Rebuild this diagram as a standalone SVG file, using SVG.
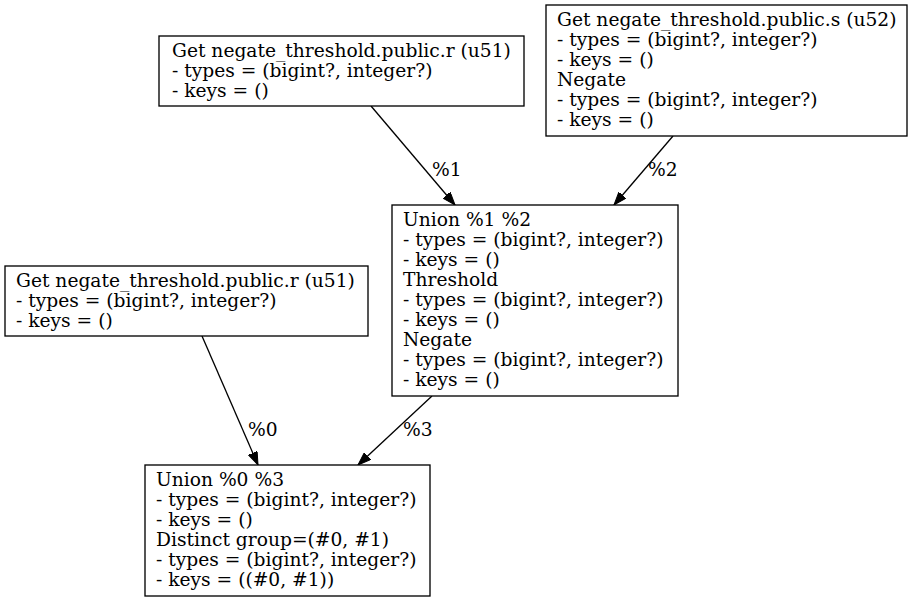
<svg xmlns="http://www.w3.org/2000/svg" width="915" height="603" viewBox="0 0 915 603">
<defs>
<marker id="arr" markerWidth="14" markerHeight="10" refX="13" refY="4.7" orient="auto" markerUnits="userSpaceOnUse">
<polygon points="0,0 13,4.7 0,9.4" fill="#000" stroke="#000" stroke-width="1"/>
</marker>
<style>
rect{fill:#fff;stroke:#000;stroke-width:1.33}
text{font-family:"DejaVu Serif",serif;font-size:18.67px;fill:#000}
.e{stroke:#000;stroke-width:1.33;fill:none;marker-end:url(#arr)}
</style>
</defs>
<rect x="0" y="0" width="915" height="603" style="stroke:none"/>
<g id="connectors">
<path class="e" d="M371,106 L455,205"/>
<text x="432" y="176">%1</text>
<path class="e" d="M673,136 L614,205"/>
<text x="648" y="176">%2</text>
<path class="e" d="M202,336 L258,465"/>
<text x="248" y="436">%0</text>
<path class="e" d="M432,396 L358,465"/>
<text x="403" y="436">%3</text>
</g>
<g id="nodeA">
<rect x="159" y="36" width="365" height="70"/>
<text x="172" y="57">Get negate_threshold.public.r (u51)</text>
<text x="172" y="77">- types = (bigint?, integer?)</text>
<text x="172" y="97">- keys = ()</text>
</g>
<g id="nodeB">
<rect x="546" y="5" width="361" height="131"/>
<text x="557" y="26">Get negate_threshold.public.s (u52)</text>
<text x="557" y="46">- types = (bigint?, integer?)</text>
<text x="557" y="66">- keys = ()</text>
<text x="557" y="86">Negate</text>
<text x="557" y="106">- types = (bigint?, integer?)</text>
<text x="557" y="126">- keys = ()</text>
</g>
<g id="nodeC">
<rect x="392" y="205" width="286" height="191"/>
<text x="403" y="226">Union %1 %2</text>
<text x="403" y="246">- types = (bigint?, integer?)</text>
<text x="403" y="266">- keys = ()</text>
<text x="403" y="286">Threshold</text>
<text x="403" y="306">- types = (bigint?, integer?)</text>
<text x="403" y="326">- keys = ()</text>
<text x="403" y="346">Negate</text>
<text x="403" y="366">- types = (bigint?, integer?)</text>
<text x="403" y="386">- keys = ()</text>
</g>
<g id="nodeD">
<rect x="5" y="266" width="363" height="70"/>
<text x="16" y="287">Get negate_threshold.public.r (u51)</text>
<text x="16" y="307">- types = (bigint?, integer?)</text>
<text x="16" y="327">- keys = ()</text>
</g>
<g id="nodeE">
<rect x="145" y="465" width="285" height="131"/>
<text x="156" y="486">Union %0 %3</text>
<text x="156" y="506">- types = (bigint?, integer?)</text>
<text x="156" y="526">- keys = ()</text>
<text x="156" y="546">Distinct group=(#0, #1)</text>
<text x="156" y="566">- types = (bigint?, integer?)</text>
<text x="156" y="586">- keys = ((#0, #1))</text>
</g>
</svg>
